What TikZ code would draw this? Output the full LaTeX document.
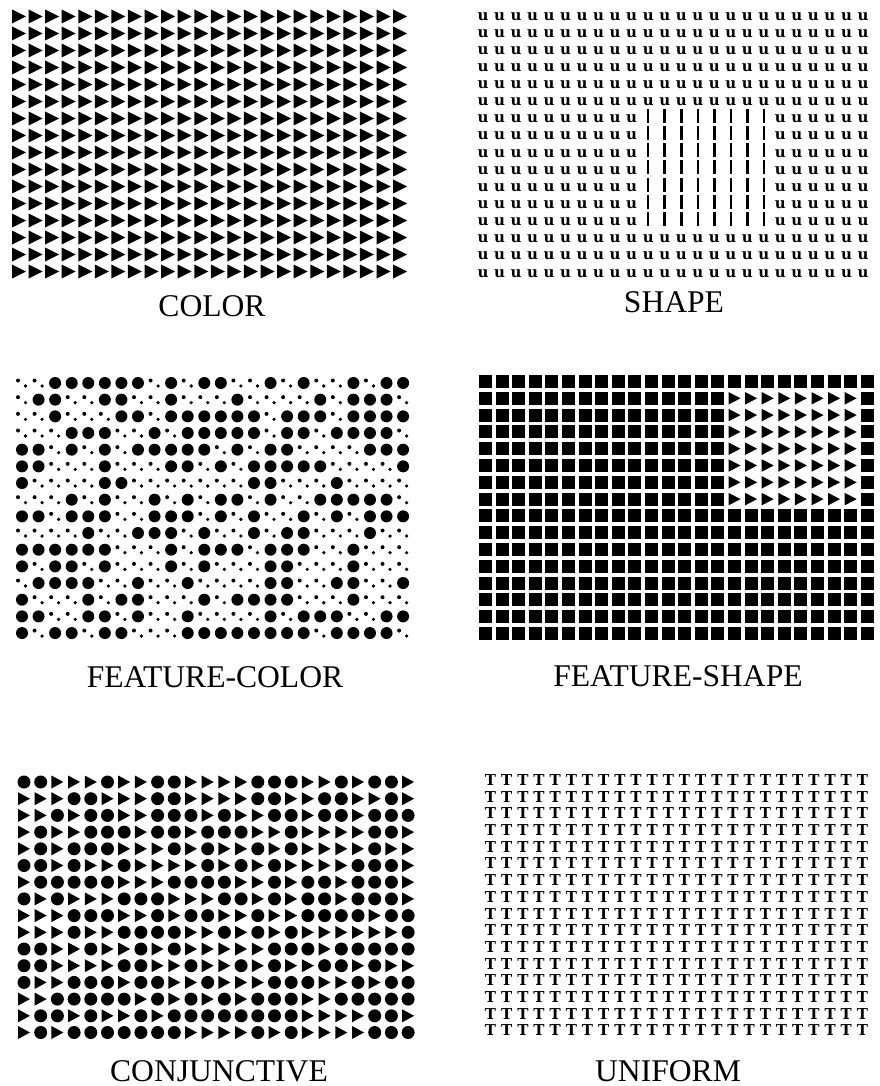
\documentclass[tikz,border=0pt]{standalone}
\usepackage{fontspec}
\setmainfont{Liberation Serif}
\newfontfamily\stimfont{DejaVu Serif}
\usetikzlibrary{positioning}
\newcommand{\trimark}[4]{\fill (#1,#2) ++(-#3/2,-#4/2) -- ++(0,#4) -- ++(#3,-#4/2) -- cycle;}
\newcommand{\sqmark}[3]{\fill (#1,#2) ++(-#3/2,-#3/2) rectangle ++(#3,#3);}
\newcommand{\pairmark}[2]{\fill (#1,#2) ++(-4,-2.5) circle (2) (#1,#2) ++(3.5,3) circle (1.8);}
\begin{document}
\begin{tikzpicture}[
  x=1pt, y=-1pt,
  lbl/.style={font=\fontsize{31.6}{32}\selectfont, inner sep=0pt},
  umark/.style={font=\stimfont\bfseries\fontsize{15}{15}\selectfont, inner sep=0pt},
  tmark/.style={font=\stimfont\bfseries\fontsize{15}{15}\selectfont, inner sep=0pt}
]
  \useasboundingbox (0,0) rectangle (879,1086);

  %% Panel 1: COLOR (all triangles)
  \foreach \r in {0,...,15}{
    \foreach \c in {0,...,23}{
      \trimark{19+\c*16.57}{16.5+\r*17}{14}{14}
    }
  }
  \node[lbl] (color) at (212,306) {COLOR};

  %% Panel 2: SHAPE (u's with a patch of bars)
  \foreach \r in {0,...,15}{
    \foreach \c in {0,...,23}{
      \pgfmathtruncatemacro{\inbar}{(\r>5)&&(\r<13)&&(\c>9)&&(\c<18)}
      \ifnum\inbar=1
        \fill (483+\c*16.52-1.25,16.3+\r*17.13-10) rectangle ++(2.5,14);
      \else
        \node[umark] (u-\r-\c) at (483+\c*16.52,16.3+\r*17.13) {u};
      \fi
    }
  }
  \node[lbl] (shape) at (674,302) {SHAPE};

  %% Panel 3: FEATURE-COLOR (1 = big dot, 0 = pair of small dots)
  \foreach \line [count=\r from 0] in {
    {0,0,1,1,1,1,1,1,0,1,0,1,1,0,0,1,0,1,0,0,1,0,1,1},
    {0,1,1,0,0,1,1,0,0,1,0,0,0,1,0,0,0,0,1,0,1,1,1,0},
    {0,0,1,0,0,0,1,1,0,1,1,1,1,1,1,0,1,1,1,0,1,1,1,1},
    {0,0,0,1,1,1,0,0,1,0,1,1,1,1,1,0,1,1,0,1,1,1,1,0},
    {1,1,0,1,0,1,0,1,1,1,1,1,0,1,0,1,1,0,0,0,0,1,1,1},
    {1,1,0,0,0,1,0,0,0,1,1,0,1,0,1,1,1,1,1,0,0,0,0,1},
    {1,0,0,0,0,1,1,0,0,0,0,0,0,0,1,1,0,0,0,1,0,0,0,0},
    {0,0,0,1,0,1,0,0,1,0,1,0,1,1,0,1,0,0,1,1,1,1,1,0},
    {1,1,0,1,1,1,0,0,1,1,1,0,1,0,1,0,0,1,0,1,0,1,1,1},
    {0,0,0,0,1,0,0,1,1,1,0,1,0,0,1,0,1,1,0,0,0,1,0,0},
    {1,1,1,1,1,1,0,0,0,1,0,1,1,1,0,1,1,1,0,0,1,0,0,0},
    {1,0,1,1,0,1,0,0,0,1,0,1,0,0,0,1,1,0,0,0,1,0,0,0},
    {0,1,1,1,1,0,0,1,0,0,1,0,0,0,0,1,1,0,0,1,1,0,0,1},
    {1,0,0,0,1,0,1,1,0,0,0,1,0,1,1,1,1,0,0,0,1,0,0,0},
    {1,1,0,0,1,1,0,1,0,0,1,0,0,0,0,1,0,1,1,1,0,0,1,1},
    {1,0,1,1,0,1,1,0,0,0,1,1,1,1,1,1,1,1,0,1,1,1,1,0}%
  }{
    \foreach \v [count=\c from 0] in \line {
      \ifnum\v=1
        \fill (22+\c*16.57,383+\r*16.67) circle (6);
      \else
        \pairmark{22+\c*16.57}{383+\r*16.67}
      \fi
    }
  }
  \node[lbl] (featcolor) at (215,677) {FEATURE-COLOR};

  %% Panel 4: FEATURE-SHAPE (squares with a patch of triangles)
  \foreach \r in {0,...,15}{
    \foreach \c in {0,...,23}{
      \pgfmathtruncatemacro{\intri}{(\r>0)&&(\r<8)&&(\c>14)&&(\c<23)}
      \ifnum\intri=1
        \trimark{485.5+\c*16.6}{381.5+\r*16.8}{12}{12.5}
      \else
        \sqmark{485.5+\c*16.6}{381.5+\r*16.8}{13}
      \fi
    }
  }
  \node[lbl] (featshape) at (678,676) {FEATURE-SHAPE};

  %% Panel 5: CONJUNCTIVE (1 = circle, 0 = triangle)
  \foreach \line [count=\r from 0] in {
    {1,1,0,0,0,1,0,0,1,1,0,0,0,0,1,1,1,0,0,1,0,1,1,0},
    {0,0,0,1,1,0,0,0,1,1,0,0,0,0,1,1,0,0,1,1,0,0,1,0},
    {0,0,1,0,1,1,0,0,1,1,1,0,1,0,0,1,1,0,1,1,0,1,1,1},
    {0,1,0,0,1,1,1,0,1,1,0,1,1,1,0,0,1,0,0,0,0,1,1,0},
    {0,1,0,1,1,1,0,0,0,1,0,1,0,0,1,0,1,0,0,0,0,1,0,0},
    {1,1,0,1,0,0,1,0,0,0,0,1,0,1,0,1,0,0,0,0,1,1,1,0},
    {0,1,1,1,1,1,0,0,0,1,1,1,1,0,0,1,0,1,1,0,1,1,1,0},
    {1,0,1,0,0,0,1,1,1,0,0,0,1,1,0,1,0,1,1,0,1,1,1,0},
    {0,0,0,1,1,1,0,0,1,0,1,1,0,0,1,0,0,1,1,1,1,0,1,1},
    {0,0,0,1,0,0,1,1,1,1,0,0,1,0,1,0,1,0,0,0,0,0,0,1},
    {1,1,0,0,1,0,0,1,0,1,0,0,0,0,0,1,1,1,0,1,1,1,1,1},
    {1,1,0,0,0,0,1,1,0,0,1,0,0,1,0,1,0,0,1,1,0,1,0,0},
    {1,0,0,1,1,1,0,1,1,0,0,1,0,0,0,1,1,1,0,0,1,0,1,1},
    {0,0,1,1,1,1,1,0,1,0,1,0,1,0,1,1,1,0,0,1,1,1,1,1},
    {0,1,1,0,1,0,0,1,0,1,1,1,1,1,1,1,1,0,0,0,0,1,1,0},
    {0,1,0,1,1,1,1,1,1,1,0,0,0,0,1,0,1,0,0,0,0,1,1,1}%
  }{
    \foreach \v [count=\c from 0] in \line {
      \ifnum\v=1
        \fill (24+\c*16.7,782+\r*16.7) circle (6.5);
      \else
        \trimark{24+\c*16.7}{782+\r*16.7}{12}{13}
      \fi
    }
  }
  \node[lbl] (conj) at (219,1071) {CONJUNCTIVE};

  %% Panel 6: UNIFORM (all T's)
  \foreach \r in {0,...,15}{
    \foreach \c in {0,...,23}{
      \node[tmark] (t-\r-\c) at (490.5+\c*16.17,780+\r*16.7) {T};
    }
  }
  \node[lbl] (uniform) at (668,1071) {UNIFORM};
\end{tikzpicture}
\end{document}
